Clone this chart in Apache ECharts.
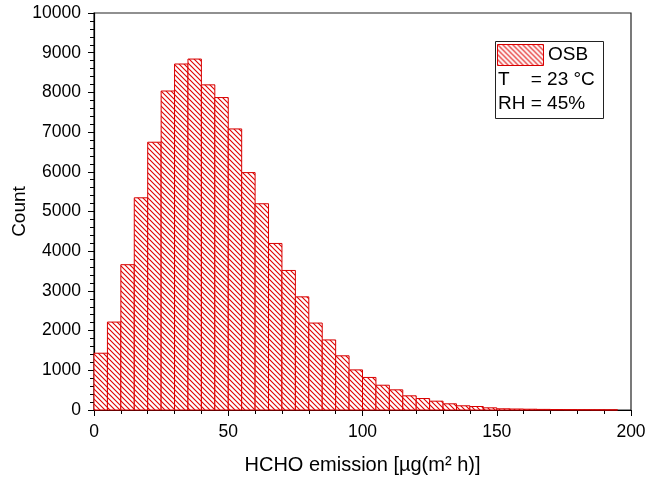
<!DOCTYPE html>
<html>
<head>
<meta charset="utf-8">
<script src="https://cdn.jsdelivr.net/npm/echarts@6/dist/echarts.min.js"></script>
<style>
  html, body { margin: 0; padding: 0; background: #fff; }
  #main { width: 648px; height: 479px; }
</style>
</head>
<body>
<div id="main"></div>
<script>
// histogram bins (left edge, right edge) and counts
var binStart = [0, 5, 10, 15, 20, 25, 30, 35, 40, 45, 50, 55, 60, 65, 70, 75, 80, 85, 90, 95,
                100, 105, 110, 115, 120, 125, 130, 135, 140, 145, 150, 155, 160, 165, 170, 175, 180, 185, 190];
var binEnd = [5, 10, 15, 20, 25, 30, 35, 40, 45, 50, 55, 60, 65, 70, 75, 80, 85, 90, 95, 100,
              105, 110, 115, 120, 125, 130, 135, 140, 145, 150, 155, 160, 165, 170, 175, 180, 185, 190, 195];
var counts = [1430, 2215, 3660, 5345, 6745, 8035, 8715, 8840, 8190, 7870, 7080, 5980, 5195, 4195, 3515, 2850, 2190, 1765, 1365, 1010,
              820, 624, 508, 357, 289, 222, 156, 106, 88, 55, 30, 25, 20, 15, 12, 10, 8, 6, 4];
var xTicks = [0, 50, 100, 150, 200];
var legendLines = ['OSB', 'T    = 23 °C', 'RH = 45%'];

var FONT = '"Liberation Sans", Arial, sans-serif';
var RED = '#d80000';

// hatch pattern "\\\\"
function makeHatch() {
    var s = 5;
    var c = document.createElement('canvas');
    c.width = s; c.height = s;
    var ctx = c.getContext('2d');
    ctx.fillStyle = '#fff';
    ctx.fillRect(0, 0, s, s);
    ctx.strokeStyle = '#e00000';
    ctx.lineWidth = 1.1;
    ctx.beginPath();
    ctx.moveTo(-1, -1); ctx.lineTo(s + 1, s + 1);
    ctx.moveTo(-1, s - 1); ctx.lineTo(1, s + 1);
    ctx.moveTo(s - 1, -1); ctx.lineTo(s + 1, 1);
    ctx.stroke();
    return c;
}
var hatch = { image: makeHatch(), repeat: 'repeat' };

var data = [];
for (var i = 0; i < counts.length; i++) {
    data.push([binStart[i], binEnd[i], counts[i]]);
}

var myChart = echarts.init(document.getElementById('main'));

var option = {
    backgroundColor: '#fff',
    animation: false,
    grid: {
        left: 94, right: 17, top: 13, bottom: 69,
        containLabel: false,
        outerBoundsMode: 'none',
        show: true, borderColor: '#222', borderWidth: 1.2
    },
    xAxis: {
        type: 'value',
        min: 0, max: 200, interval: 50,
        name: 'HCHO emission [µg(m² h)]',
        nameLocation: 'middle',
        nameGap: 45,
        nameMoveOverlap: false,
        nameTextStyle: { fontFamily: FONT, fontSize: 20, color: '#000' },
        axisLine: { show: true, lineStyle: { color: '#000', width: 1.2 } },
        axisTick: { show: true, inside: false, length: 6, lineStyle: { color: '#000' } },
        minorTick: { show: true, splitNumber: 5, length: 4, lineStyle: { color: '#000' } },
        splitLine: { show: false },
        axisLabel: {
            fontFamily: FONT, fontSize: 17.5, color: '#000', margin: 13,
            formatter: function (v) { return xTicks.indexOf(v) >= 0 ? String(v) : ''; }
        }
    },
    yAxis: {
        type: 'value',
        min: 0, max: 10000, interval: 1000,
        name: 'Count',
        nameLocation: 'middle',
        nameGap: 65,
        nameMoveOverlap: false,
        nameTextStyle: { fontFamily: FONT, fontSize: 19, color: '#000' },
        axisLine: { show: true, lineStyle: { color: '#000', width: 1.2 } },
        axisTick: { show: true, inside: false, length: 6, lineStyle: { color: '#000' } },
        minorTick: { show: true, splitNumber: 5, length: 4, lineStyle: { color: '#000' } },
        splitLine: { show: false },
        axisLabel: {
            fontFamily: FONT, fontSize: 17.5, color: '#000', margin: 13,
            formatter: function (v) { return String(v); }
        }
    },
    series: [{
        type: 'custom',
        name: 'OSB',
        encode: { x: [0, 1], y: 2 },
        data: data,
        renderItem: function (params, api) {
            var p0 = api.coord([api.value(0), api.value(2)]);
            var p1 = api.coord([api.value(1), 0]);
            return {
                type: 'rect',
                shape: { x: p0[0], y: p0[1], width: p1[0] - p0[0], height: p1[1] - p0[1] },
                style: { fill: hatch, stroke: RED, lineWidth: 1 }
            };
        }
    }],
    graphic: [
        { type: 'rect', left: 495, top: 41, shape: { width: 108, height: 77 },
          style: { fill: '#fff', stroke: '#222', lineWidth: 1 }, z: 10 },
        { type: 'rect', left: 497, top: 44, shape: { width: 46, height: 21 },
          style: { fill: hatch, stroke: RED, lineWidth: 1 }, z: 11 },
        { type: 'text', left: 548, top: 45, z: 11,
          style: { text: legendLines[0], font: '19px ' + FONT, fill: '#000' } },
        { type: 'text', left: 498, top: 70, z: 11,
          style: { text: legendLines[1], font: '19px ' + FONT, fill: '#000' } },
        { type: 'text', left: 498, top: 94, z: 11,
          style: { text: legendLines[2], font: '19px ' + FONT, fill: '#000' } }
    ]
};

myChart.setOption(option);
</script>
</body>
</html>
